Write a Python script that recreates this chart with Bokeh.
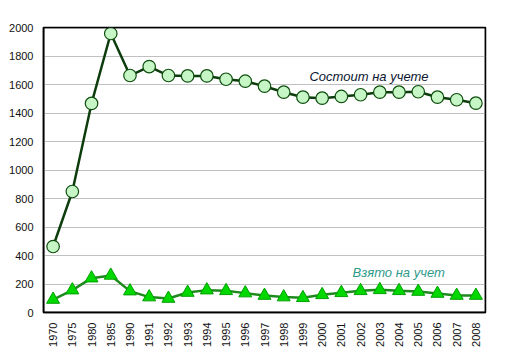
import math
from bokeh.plotting import figure
from bokeh.models import FixedTicker, Label, ColumnDataSource, BoxAnnotation
from bokeh.embed import file_html
from bokeh.resources import INLINE

years = ["1970", "1975", "1980", "1985", "1990", "1991", "1992", "1993", "1994",
         "1995", "1996", "1997", "1998", "1999", "2000", "2001", "2002", "2003",
         "2004", "2005", "2006", "2007", "2008"]
sostoit = [463, 849, 1467, 1958, 1663, 1726, 1663, 1660, 1660, 1637, 1623, 1588,
           1546, 1511, 1504, 1516, 1528, 1546, 1546, 1549, 1511, 1493, 1469]
vzyato = [91, 157, 241, 260, 150, 108, 98, 140, 157, 152, 136, 119, 108, 103,
          124, 138, 152, 159, 152, 147, 133, 119, 119]
y_ticks = [0, 200, 400, 600, 800, 1000, 1200, 1400, 1600, 1800, 2000]
label_top = "Состоит на учете"
label_bottom = "Взято на учет"

src = ColumnDataSource(dict(x=years, a=sostoit, b=vzyato))

p = figure(width=513, height=358, x_range=years, y_range=(0, 2000),
           output_backend="svg", toolbar_location=None,
           min_border_left=43, min_border_top=27, min_border_right=28,
           min_border_bottom=46)
p.x_range.range_padding = 0
p.outline_line_color = "black"
p.outline_line_width = 1.5
p.background_fill_color = "white"
p.border_fill_color = "white"

p.xgrid.grid_line_color = None
p.ygrid.grid_line_color = "#c0c0c0"
p.ygrid.grid_line_width = 1.2

for ax in (p.xaxis, p.yaxis):
    ax.axis_line_color = "black"
    ax.axis_line_width = 1.5
    ax.major_tick_line_color = None
    ax.minor_tick_line_color = None
    ax.major_tick_out = 0
    ax.major_tick_in = 0
    ax.major_label_text_font = "Liberation Sans"
    ax.major_label_text_font_size = "11px"
    ax.major_label_text_color = "#111111"

p.yaxis.ticker = FixedTicker(ticks=y_ticks)
p.yaxis.major_label_standoff = 10
p.xaxis.major_label_orientation = math.pi / 2
p.xaxis.major_label_standoff = 10

p.line("x", "a", source=src, line_color="#0d3d0d", line_width=2.5)
p.scatter("x", "a", source=src, marker="circle", size=12.5,
          fill_color="#c6f5c6", line_color="#0d4d0d", line_width=1.2)

p.line("x", "b", source=src, line_color="#1e8a1e", line_width=2.5)
p.scatter("x", "b", source=src, marker="triangle", size=13,
          fill_color="#00d800", line_color="#00a000", line_width=1)

# frame border around the plotting area
p.add_layout(BoxAnnotation(fill_color=None, fill_alpha=0, line_color="black",
                           line_width=1.5, line_alpha=1))

p.add_layout(Label(x=13.84, y=1656, text=label_top, text_font="Liberation Sans",
                   text_font_style="italic", text_font_size="13px",
                   text_color="#0a1530", text_baseline="middle"))
p.add_layout(Label(x=16.08, y=281, text=label_bottom, text_font="Liberation Sans",
                   text_font_style="italic", text_font_size="13px",
                   text_color="#2e9a8a", text_baseline="middle"))

open("out.html", "w").write(file_html(p, INLINE))
